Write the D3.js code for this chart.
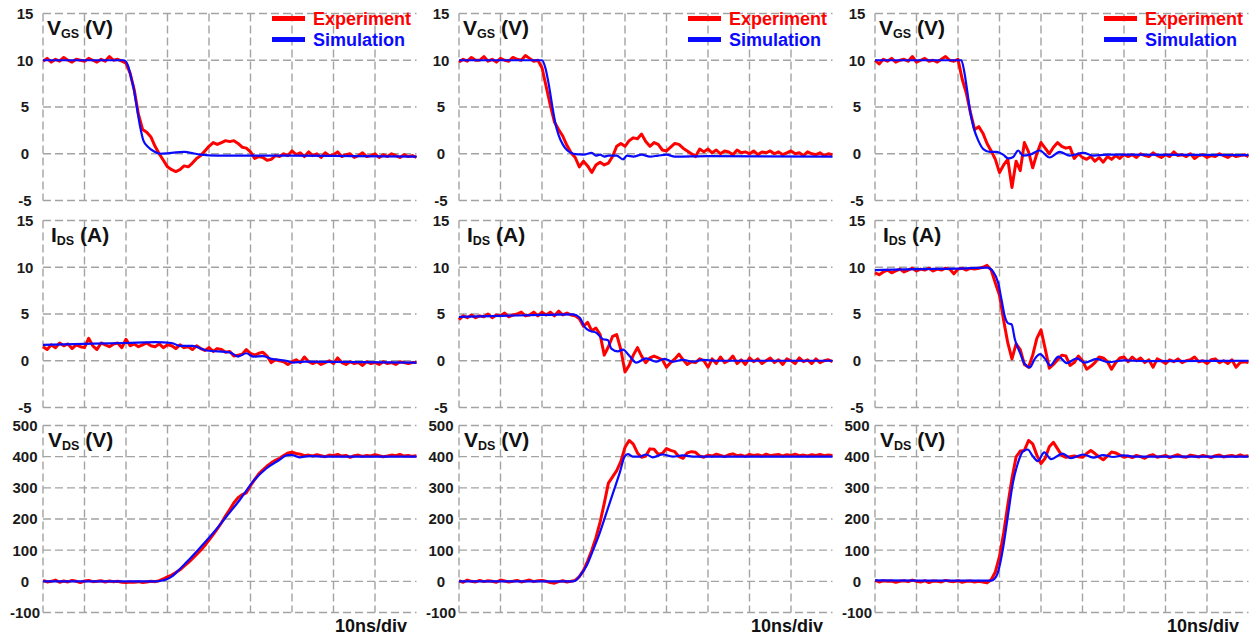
<!DOCTYPE html>
<html>
<head>
<meta charset="utf-8">
<script src="https://cdn.jsdelivr.net/npm/d3@7"></script>
<style>
    body { margin: 0; background: #ffffff; }
    svg { display: block; font-family: 'Liberation Sans', Arial, sans-serif; font-weight: bold; }
</style>
</head>
<body>
<div id="chart"></div>
<script>
// scope samples, one per ns (10ns/div, 9 div)
const timeNs = d3.range(0, 91);
const timeGrid = [0, 10, 20, 30, 40, 50, 60, 70, 80];

const gateTicks = [-5, 0, 5, 10, 15];
const currentTicks = [-5, 0, 5, 10, 15];
const drainTicks = [-100, 0, 100, 200, 300, 400, 500];

// ---- measured traces (red) ----
const vgsExp1 = [
    9.9, 10.2, 9.8, 10.1, 9.9, 10.3, 10.0, 9.8, 10.1, 10.0,
    9.9, 10.2, 10.0, 9.8, 10.1, 9.9, 10.4, 10.0, 10.1, 9.9,
    9.7, 8.6, 6.8, 4.2, 2.6, 2.3, 1.8, 0.8, 0.0, -0.7,
    -1.4, -1.7, -1.9, -1.7, -1.3, -1.4, -1.0, -0.5, -0.2, 0.3,
    0.8, 1.2, 1.0, 1.2, 1.4, 1.3, 1.4, 1.1, 0.7, 0.6,
    0.2, -0.5, -0.3, -0.4, -0.7, -0.6, -0.2, -0.3, 0.0, -0.2,
    0.3, -0.1, 0.1, -0.3, 0.2, -0.2, 0.0, -0.4, 0.1, -0.2,
    -0.1, 0.2, -0.3, -0.1, 0.0, -0.4, -0.2, 0.1, -0.3, -0.2,
    0.0, -0.4, -0.1, -0.3, 0.0, -0.2, -0.4, -0.1, -0.3, -0.2, -0.4
];
const vgsExp2 = [
    9.8, 10.1, 9.9, 10.3, 10.0, 10.0, 10.4, 9.9, 10.1, 9.8,
    10.2, 10.0, 9.9, 10.3, 10.1, 10.0, 10.5, 10.2, 9.9, 10.0,
    9.2, 7.2, 5.2, 3.4, 2.6, 1.9, 0.9, 0.1, -0.4, -1.4,
    -0.8, -1.3, -2.0, -1.2, -0.9, -1.2, -1.0, -0.3, 0.8, 1.1,
    0.8, 1.4, 1.7, 1.6, 2.1, 1.3, 0.8, 1.2, 1.0, 0.4,
    0.3, 0.7, 1.1, 1.0, 0.6, 0.3, 0.0, -0.3, 0.5, 0.2,
    0.5, 0.1, 0.4, 0.0, 0.3, 0.2, -0.1, 0.4, 0.1, 0.2,
    0.0, 0.3, -0.1, 0.2, 0.1, 0.3, 0.0, 0.2, -0.1, 0.1,
    0.3, 0.0, 0.1, -0.2, 0.2, 0.0, -0.1, 0.1, -0.2, 0.0, -0.1
];
const vgsExp3 = [
    10.0, 9.6, 10.1, 9.9, 10.2, 9.8, 10.0, 10.1, 9.9, 10.4,
    9.8, 10.0, 10.2, 9.9, 10.0, 9.8, 10.1, 10.4, 10.0, 9.9,
    10.1, 8.0, 6.5, 4.4, 2.6, 2.9, 2.2, 1.1, 0.3, -0.6,
    -2.0, -1.2, -0.6, -3.6, -0.8, -1.8, 1.2, 0.2, -1.5, 0.0,
    1.2, 0.6, 0.0, 0.7, 1.2, 0.8, 0.6, 0.7, -0.5, 0.0,
    -0.4, -0.6, -0.3, -0.8, -0.4, -0.9, -0.3, -0.6, -0.2, -0.5,
    -0.1, -0.3, -0.1, -0.4, 0.0, -0.2, -0.3, 0.1, -0.2, -0.4,
    -0.1, -0.3, 0.2, -0.2, -0.1, -0.3, 0.0, -0.5, -0.2, -0.1,
    -0.4, -0.2, -0.3, 0.0, -0.2, -0.4, -0.1, -0.3, -0.2, -0.1, -0.3
];
const idsExp1 = [
    1.5, 1.2, 1.7, 1.4, 1.9, 1.6, 1.8, 1.3, 1.7, 1.5,
    1.4, 2.4, 1.6, 1.2, 1.9, 1.7, 1.5, 1.8, 1.9, 1.4,
    2.3, 1.6, 1.8, 1.5, 1.7, 1.9, 1.6, 1.5, 1.8, 1.4,
    1.7, 1.6, 1.3, 1.7, 1.4, 1.5, 1.2, 1.6, 1.3, 1.1,
    1.4, 1.0, 1.3, 1.2, 0.9, 1.0, 0.5, 0.6, 0.7, 1.2,
    0.8, 0.6, 0.8, 0.9, 0.5, -0.2, 0.1, 0.0, -0.1, -0.4,
    -0.1, 0.1, -0.2, 0.4, -0.1, -0.3, -0.1, -0.4, -0.2, 0.0,
    -0.3, 0.3, -0.2, -0.4, -0.1, -0.3, -0.2, -0.5, -0.1, -0.3,
    -0.2, -0.4, -0.1, -0.3, -0.2, -0.4, -0.1, -0.2, -0.3, -0.2, -0.2
];
const idsExp2 = [
    4.4, 4.8, 4.6, 4.9, 4.6, 4.8, 4.7, 5.0, 4.6, 4.9,
    4.8, 5.1, 4.7, 4.9, 5.0, 5.2, 4.8, 4.9, 5.2, 4.8,
    5.2, 4.9, 5.2, 4.8, 5.3, 4.9, 5.1, 4.9, 4.8, 4.5,
    3.7, 4.1, 3.2, 3.5, 2.8, 0.6, 1.5, 2.6, 2.8, 1.2,
    -1.2, -0.5, 0.6, 1.4, 0.5, -0.2, 0.3, 0.5, 0.3, 0.1,
    -0.7, -0.2, 0.2, 0.7, 0.1, -0.4, -0.1, -0.2, 0.2, 0.0,
    -0.7, 0.2, -0.3, 0.4, -0.2, 0.0, 0.5, -0.3, 0.1, -0.4,
    0.3, -0.1, 0.2, -0.3, 0.0, 0.3, -0.2, 0.1, -0.4, 0.2,
    0.0, -0.3, 0.3, -0.1, 0.1, -0.3, 0.2, -0.2, 0.0, 0.1, -0.1
];
const idsExp3 = [
    9.4, 9.2, 9.5, 9.7, 9.4, 9.6, 9.8, 9.5, 9.7, 9.9,
    9.6, 9.8, 9.7, 9.9, 9.6, 9.8, 9.7, 9.9, 9.8, 9.3,
    9.8, 9.9, 9.7, 9.9, 9.8, 9.9, 10.0, 10.2, 9.7, 8.3,
    7.0, 4.3, 1.9, 0.2, 1.8, 1.2, -0.4, -0.7, 0.6, 2.4,
    3.3, 1.3, -0.8, -0.4, 0.1, 0.6, 0.5, -0.5, -0.2, 0.5,
    0.0, -0.9, -0.6, -0.2, 0.4, 0.3, -0.1, -0.9, -0.2, 0.3,
    0.4, -0.1, 0.4, 0.0, 0.3, -0.2, 0.1, -0.7, 0.2, 0.0,
    -0.3, 0.1, -0.1, 0.2, -0.2, 0.0, 0.1, 0.4, -0.1, 0.0,
    -0.3, 0.1, 0.2, -0.2, 0.0, -0.3, 0.1, -0.7, -0.2, -0.1, -0.2
];
const vdsExp1 = [
    3, -2, 0, 4, -3, 1, -2, 3, 0, -4,
    1, 3, -1, 0, 2, -2, 1, -1, 0, -3,
    -4, -2, -3, -1, -4, -2, 0, -1, 2, 8,
    14, 20, 28, 37, 49, 60, 73, 86, 100, 115,
    132, 150, 168, 188, 210, 230, 252, 268, 278, 284,
    307, 326, 345, 358, 370, 380, 388, 395, 404, 412,
    414, 410, 408, 403, 405, 402, 406, 403, 400, 405,
    403, 407, 402, 404, 398, 403, 405, 401, 404, 402,
    406, 403, 400, 402, 405, 403, 407, 402, 404, 401, 403
];
const vdsExp2 = [
    2, -3, 4, 0, -2, 3, -1, 2, 0, -3,
    4, 1, -2, 0, 3, -2, 1, 4, -1, 2,
    3, 0, -4, -6, -1, 2, -2, 0, 3, 15,
    35, 65, 100, 140, 190, 250, 315, 335, 355, 385,
    430, 452, 440, 412, 398, 402, 425, 424, 408, 410,
    426, 420, 416, 400, 395, 412, 416, 414, 402, 398,
    405, 402, 408, 404, 400, 406, 409, 403, 405, 401,
    407, 404, 406, 402, 408, 403, 405, 407, 402, 406,
    404, 408, 403, 405, 402, 406, 404, 407, 403, 405, 404
];
const vdsExp3 = [
    3, -2, 2, 0, 1, -3, 0, 2, -1, 4,
    0, -2, 2, -4, 1, 0, -2, 3, 0, -1,
    2, -3, 0, 1, -2, 0, -2, -5, 5, 30,
    80, 155, 245, 330, 399, 418, 420, 452, 441, 405,
    378, 395, 432, 446, 425, 404, 398, 400, 402, 400,
    398, 410, 420, 410, 399, 390, 402, 415, 412, 405,
    398, 402, 397, 404, 400, 395, 403, 406, 398, 401,
    404, 397, 402, 406, 400, 398, 405, 402, 399, 404,
    401, 397, 403, 405, 399, 402, 404, 400, 406, 401, 403
];

// ---- simulated traces (blue), [ns, value] ----
const vgsSim1 = [[0, 10], [19.5, 10], [20.5, 9.4], [21.2, 8.2], [21.8, 7.1], [22.6, 5], [23.4, 2.9],
    [24.2, 1.4], [25.4, 0.7], [26.6, 0.3], [28.2, 0], [30, 0.05], [32, 0.15], [34, 0.2], [35, 0.15],
    [38, -0.1], [42, -0.2], [60, -0.2], [75, -0.25], [90, -0.3]];
const vgsSim2 = [[0, 10], [20, 10], [20.8, 9.2], [21.6, 7.5], [22.4, 5.3], [23.2, 3.3], [24, 2],
    [25, 1], [26, 0.4], [27, 0.1], [28, -0.05], [30, -0.1], [32, 0.1], [33, -0.2], [34, -0.1],
    [35, -0.3], [36, -0.2], [38, -0.2], [39.5, -0.6], [40.5, -0.2], [42, -0.3], [44, -0.1], [46, -0.3],
    [48, -0.2], [50, -0.1], [52, -0.3], [60, -0.25], [90, -0.3]];
const vgsSim3 = [[0, 10], [20.8, 10], [21.5, 8.8], [22.1, 7.1], [22.9, 4.6], [23.7, 2.9], [24.9, 1.4],
    [26.1, 0.5], [27.7, 0.2], [29.3, 0.2], [30.9, -0.1], [32.1, -0.5], [33.3, -0.35], [34.5, 0.35],
    [35.7, -0.2], [37.3, -0.1], [39.7, 0.35], [42.1, -0.4], [44.5, 0.2], [46.9, -0.2], [50.2, 0.1],
    [52.6, -0.2], [56, -0.1], [90, -0.15]];
const idsSim1 = [[0, 1.7], [10, 1.8], [20, 1.9], [27, 2.0], [31, 1.9], [33, 1.6], [36, 1.6], [39.4, 1.1],
    [45, 0.9], [47, 0.45], [49, 0.8], [50.6, 0.45], [53, 0.5], [55, 0.2], [58.6, 0], [60.2, -0.2],
    [63, -0.1], [90, -0.2]];
const idsSim2 = [[0, 4.7], [10, 4.8], [20, 4.9], [27.5, 4.95], [29.1, 4.6], [30.3, 3.6], [31.5, 3.2],
    [33.1, 3.0], [34.7, 2.3], [35.9, 2.2], [36.7, 1.3], [38.3, 1.0], [39.5, 1.2], [41.1, 0.5],
    [42.7, -0.2], [45.1, 0.25], [47.5, -0.1], [49.5, 0.2], [51.5, -0.1], [53.9, 0.1], [56.4, -0.1],
    [58.8, 0.1], [62, 0], [90, 0]];
const idsSim3 = [[0, 9.7], [10, 9.8], [20, 9.85], [27, 9.95], [28.5, 9.5], [29.7, 8.3], [30.5, 6.5],
    [31.3, 4.7], [32.1, 4.0], [32.9, 3.9], [33.7, 2.3], [34.9, 0.9], [36.1, -0.35], [37.3, -0.7],
    [38.5, 0.2], [39.8, 0.7], [41, 0.2], [42.2, -0.5], [44.2, 0.45], [46.2, -0.25], [48.6, 0.25],
    [50.6, -0.2], [53.4, 0.2], [56.2, -0.15], [60, 0.05], [65, -0.05], [90, 0]];
const vdsSim1 = [[0, 0], [27, 0], [28.5, 2], [29.7, 6], [31, 15], [32.1, 28], [34.5, 60], [37.8, 107],
    [41, 155], [44.2, 208], [47.4, 261], [50.6, 320], [53.8, 362], [57, 390], [58.6, 404],
    [59.8, 406], [61.8, 398], [64.2, 402], [68, 400], [90, 400]];
const vdsSim2 = [[0, 0], [27.5, 0], [28.3, 5], [29.1, 17], [30.7, 49], [32.3, 100], [33.9, 155],
    [35.5, 219], [37.1, 283], [38.7, 347], [39.9, 400], [40.7, 408], [41.9, 400], [43.5, 400],
    [45.1, 407], [46.7, 398], [49.1, 407], [51.5, 400], [53.9, 404], [57, 400], [90, 400]];
const vdsSim3 = [[0, 3], [28, 2], [28.8, 8], [29.6, 28], [30.8, 102], [32, 208], [33.2, 314],
    [34.4, 378], [35.6, 416], [36.8, 423], [38, 402], [39.2, 386], [40.8, 414], [42.4, 392],
    [45.2, 410], [47.2, 395], [50.2, 407], [52.6, 397], [55, 405], [57.4, 399], [59.8, 404],
    [63, 400], [90, 400]];

const rows = [
    { sym: 'V', sub: 'GS', unit: ' (V)', domain: [-5, 15], ticks: gateTicks, titleDx: 4,
      exp: [vgsExp1, vgsExp2, vgsExp3], sim: [vgsSim1, vgsSim2, vgsSim3] },
    { sym: 'I', sub: 'DS', unit: ' (A)', domain: [-5, 15], ticks: currentTicks, titleDx: 8,
      exp: [idsExp1, idsExp2, idsExp3], sim: [idsSim1, idsSim2, idsSim3] },
    { sym: 'V', sub: 'DS', unit: ' (V)', domain: [-100, 500], ticks: drainTicks, titleDx: 5,
      exp: [vdsExp1, vdsExp2, vdsExp3], sim: [vdsSim1, vdsSim2, vdsSim3] }
];

const width = 1258, height = 637;
const colLeft = [43, 459, 875];
const rowTop = [13.5, 220.5, 425.5];
const plotW = 373.5, plotH = 187;

const RED = '#ff0000';
const BLUE = '#0a0aff';
const GRID = '#a3a3a3';

const svg = d3.select('#chart')
    .append('svg')
    .attr('width', width)
    .attr('height', height);

rows.forEach((row, r) => {
    colLeft.forEach((left, c) => {
        const top = rowTop[r];
        const x = d3.scaleLinear().domain([0, 90]).range([left, left + plotW]);
        const y = d3.scaleLinear().domain(row.domain).range([top + plotH, top]);

        const g = svg.append('g');

        // dashed grid
        g.selectAll('line.h')
            .data(row.ticks)
            .join('line')
            .attr('class', 'h')
            .attr('x1', left).attr('x2', left + plotW)
            .attr('y1', d => y(d)).attr('y2', d => y(d));
        g.selectAll('line.v')
            .data(timeGrid)
            .join('line')
            .attr('class', 'v')
            .attr('x1', d => x(d)).attr('x2', d => x(d))
            .attr('y1', top).attr('y2', top + plotH);
        g.selectAll('line')
            .attr('stroke', GRID)
            .attr('stroke-width', 1.4)
            .attr('stroke-dasharray', '8,4');

        // tick labels (centred in the left margin)
        g.selectAll('text.tick')
            .data(row.ticks)
            .join('text')
            .attr('class', 'tick')
            .attr('x', left - 18)
            .attr('y', d => y(d))
            .attr('dy', '0.36em')
            .attr('text-anchor', 'middle')
            .style('font-size', '15px')
            .attr('fill', '#1a1a1a')
            .text(d => d);

        // traces
        const expLine = d3.line()
            .x((d, i) => x(timeNs[i]))
            .y(d => y(d));
        const simLine = d3.line()
            .x(d => x(d[0]))
            .y(d => y(d[1]))
            .curve(d3.curveMonotoneX);

        g.append('path')
            .attr('d', expLine(row.exp[c]))
            .attr('fill', 'none')
            .attr('stroke', RED)
            .attr('stroke-width', 3)
            .attr('stroke-linejoin', 'round');
        g.append('path')
            .attr('d', simLine(row.sim[c]))
            .attr('fill', 'none')
            .attr('stroke', BLUE)
            .attr('stroke-width', 2.2)
            .attr('stroke-linejoin', 'round');

        // panel title, e.g. V_GS (V)
        const title = g.append('text')
            .attr('x', left + row.titleDx)
            .attr('y', top + 21.5)
            .attr('fill', '#111')
            .style('font-size', '21px');
        title.append('tspan').text(row.sym);
        title.append('tspan')
            .attr('dy', 3)
            .style('font-size', '12.5px')
            .text(row.sub);
        title.append('tspan')
            .attr('dy', -3)
            .text(row.unit);

        // legend on the top row
        if (r === 0) {
            const legend = [['Experiment', RED, 5], ['Simulation', BLUE, 26]];
            legend.forEach(([label, color, dy]) => {
                g.append('line')
                    .attr('x1', left + 229).attr('x2', left + 262)
                    .attr('y1', top + dy).attr('y2', top + dy)
                    .attr('stroke', color)
                    .attr('stroke-width', 5);
                g.append('text')
                    .attr('x', left + 270)
                    .attr('y', top + dy + 6.5)
                    .attr('fill', color)
                    .style('font-size', '18px')
                    .text(label);
            });
        }

        // time base note on the bottom row
        if (r === rows.length - 1) {
            g.append('text')
                .attr('x', left + 364)
                .attr('y', 632)
                .attr('text-anchor', 'end')
                .attr('fill', '#111')
                .style('font-size', '18px')
                .text('10ns/div');
        }
    });
});
</script>
</body>
</html>
